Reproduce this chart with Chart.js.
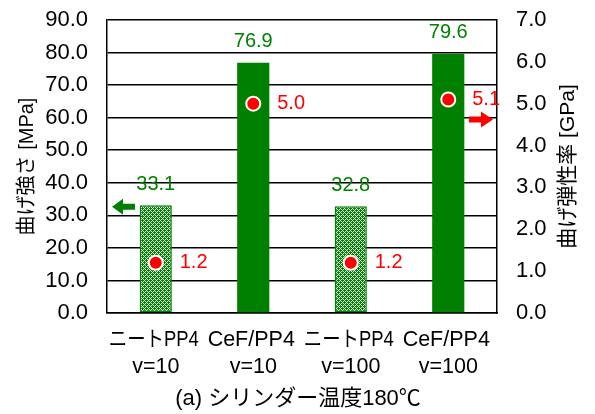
<!DOCTYPE html>
<html>
<head>
<meta charset="utf-8">
<script src="https://cdn.jsdelivr.net/npm/chart.js@4/dist/chart.umd.min.js"></script>
<style>
  html, body { margin: 0; padding: 0; background: #fff; }
  #wrap { width: 595px; height: 414px; }
</style>
</head>
<body>
<div id="wrap"><canvas id="c" width="595" height="414"></canvas></div>
<script>
// Sample groups (two-line category labels)
const categories = [
  ["ニートPP4", "v=10"],
  ["CeF/PP4", "v=10"],
  ["ニートPP4", "v=100"],
  ["CeF/PP4", "v=100"]
];
// Flexural strength [MPa] (bars, left axis)
const strength = [33.1, 76.9, 32.8, 79.6];
// Flexural modulus [GPa] (points, right axis)
const modulus = [1.2, 5.0, 1.2, 5.1];
// Neat PP bars are drawn with a lattice fill, CeF composites solid
const latticeFill = [true, false, true, false];

const leftTitle = "曲げ強さ [MPa]";
const rightTitle = "曲げ弾性率 [GPa]";
const chartTitle = "(a) シリンダー温度180℃";

const GREEN = "#008000";
const RED = "#ff0000";
const FONT = '"Liberation Sans", Arial, "Noto Sans CJK JP", sans-serif';

// Small repeating lattice tile for the neat PP bars
function makeLattice() {
  const t = document.createElement("canvas");
  t.width = 4; t.height = 4;
  const g = t.getContext("2d");
  g.fillStyle = GREEN;
  g.fillRect(0, 0, 4, 4);
  g.fillStyle = "#e6f5e6";
  for (let y = 0; y < 4; y++) {
    for (let x = 0; x < 4; x++) {
      if ((x + y) % 4 === 0 || ((x - y) % 4 + 4) % 4 === 0) g.fillRect(x, y, 1, 1);
    }
  }
  return g.createPattern(t, "repeat");
}
const lattice = makeLattice();

// Value labels, category labels, axis titles, caption and axis-pointing arrows
const annotate = {
  id: "annotate",
  afterDatasetsDraw(chart) {
    const { ctx, chartArea: a, scales } = chart;
    const yL = scales.y, yR = scales.y1, xs = scales.x;
    ctx.save();
    ctx.font = "20px " + FONT;
    ctx.textBaseline = "middle";

    const bars = chart.getDatasetMeta(1).data;
    ctx.fillStyle = GREEN;
    ctx.textAlign = "center";
    bars.forEach((b, i) => {
      ctx.fillText(strength[i].toFixed(1), b.x, yL.getPixelForValue(strength[i]) - 21);
    });

    const pts = chart.getDatasetMeta(0).data;
    ctx.fillStyle = RED;
    ctx.textAlign = "left";
    pts.forEach((p, i) => {
      ctx.fillText(modulus[i].toFixed(1), p.x + 24, yR.getPixelForValue(modulus[i]));
    });

    // green arrow -> left axis
    let yy = yL.getPixelForValue(32.6);
    let tip = a.left + 5;
    ctx.fillStyle = GREEN;
    ctx.beginPath();
    ctx.moveTo(tip, yy);
    ctx.lineTo(tip + 11, yy - 8);
    ctx.lineTo(tip + 11, yy - 3);
    ctx.lineTo(tip + 23, yy - 3);
    ctx.lineTo(tip + 23, yy + 3);
    ctx.lineTo(tip + 11, yy + 3);
    ctx.lineTo(tip + 11, yy + 8);
    ctx.closePath();
    ctx.fill();

    // red arrow -> right axis
    yy = yR.getPixelForValue(4.62);
    tip = a.right - 4;
    ctx.fillStyle = RED;
    ctx.beginPath();
    ctx.moveTo(tip, yy);
    ctx.lineTo(tip - 12, yy - 8);
    ctx.lineTo(tip - 12, yy - 3);
    ctx.lineTo(tip - 24, yy - 3);
    ctx.lineTo(tip - 24, yy + 3);
    ctx.lineTo(tip - 12, yy + 3);
    ctx.lineTo(tip - 12, yy + 8);
    ctx.closePath();
    ctx.fill();

    // category labels: two lines, first line kept within the category width
    ctx.fillStyle = "#000";
    ctx.textAlign = "center";
    ctx.font = "21.5px " + FONT;
    categories.forEach((lines, i) => {
      const cx = xs.getPixelForTick(i);
      ctx.fillText(lines[0], cx - 2, a.bottom + 27, 90);
      ctx.fillText(lines[1], cx, a.bottom + 54, 90);
    });

    // axis titles (both read bottom-to-top)
    const midY = (a.top + a.bottom) / 2;
    ctx.save();
    ctx.font = "20px " + FONT;
    ctx.translate(27, midY);
    ctx.rotate(-Math.PI / 2);
    ctx.fillText(leftTitle, 0, 0);
    ctx.restore();
    ctx.save();
    ctx.font = "21px " + FONT;
    ctx.translate(chart.width - 27, midY);
    ctx.rotate(-Math.PI / 2);
    ctx.fillText(rightTitle, 0, 0);
    ctx.restore();

    // caption under the category labels
    ctx.font = "22px " + FONT;
    ctx.fillText(chartTitle, (a.left + a.right) / 2 - 4, chart.height - 15);
    ctx.restore();
  }
};

new Chart(document.getElementById("c"), {
  data: {
    labels: categories,
    datasets: [
      {
        type: "line",
        data: modulus,
        yAxisID: "y1",
        showLine: false,
        pointRadius: 7,
        pointHoverRadius: 7,
        pointBackgroundColor: RED,
        pointBorderColor: "#fff",
        pointBorderWidth: 2,
        order: 0
      },
      {
        type: "bar",
        data: strength,
        yAxisID: "y",
        backgroundColor: latticeFill.map(h => h ? lattice : GREEN),
        borderColor: GREEN,
        borderWidth: latticeFill.map(h => h ? 1.5 : 0),
        borderSkipped: false,
        barPercentage: 0.33,
        categoryPercentage: 1,
        order: 1
      }
    ]
  },
  options: {
    responsive: false,
    animation: false,
    events: [],
    layout: { padding: { top: 20, bottom: 0, left: 0, right: 0 } },
    plugins: { legend: { display: false }, tooltip: { enabled: false }, title: { display: false } },
    scales: {
      x: {
        offset: true,
        grid: { display: false },
        border: { display: true, color: "#000", width: 1.5 },
        ticks: { display: false },
        afterFit(s) { s.height = 101; }
      },
      y: {
        position: "left",
        min: 0, max: 90,
        grid: { color: "#000", lineWidth: 1.5, drawTicks: true, tickLength: 19, tickColor: "rgba(0,0,0,0)" },
        border: { display: true, color: "#000", width: 1.5 },
        ticks: {
          stepSize: 10,
          color: "#000",
          padding: 0,
          font: { family: FONT, size: 22 },
          callback: v => Number(v).toFixed(1)
        },
        afterFit(s) { s.width = 107; }
      },
      y1: {
        position: "right",
        min: 0, max: 7,
        grid: { drawOnChartArea: false, drawTicks: true, tickLength: 19, tickColor: "rgba(0,0,0,0)" },
        border: { display: true, color: "#000", width: 1.5 },
        ticks: {
          stepSize: 1,
          color: "#000",
          padding: 0,
          font: { family: FONT, size: 22 },
          callback: v => Number(v).toFixed(1)
        },
        afterFit(s) { s.width = 98; }
      }
    }
  },
  plugins: [annotate]
});
</script>
</body>
</html>
